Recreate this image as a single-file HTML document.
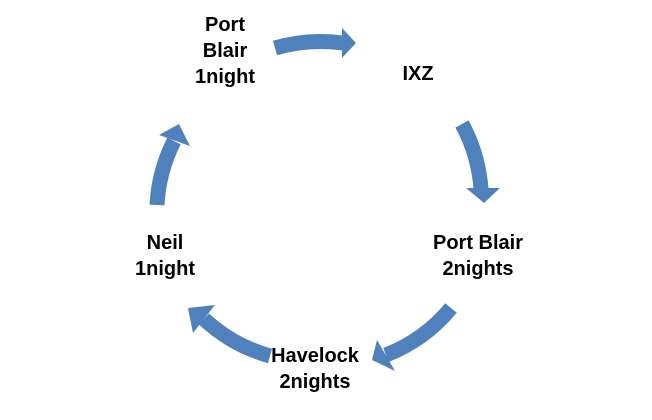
<!DOCTYPE html>
<html><head><style>
html,body{margin:0;padding:0;background:#fff;}
svg{display:block}
text{font-family:"Liberation Sans",sans-serif;font-weight:bold;font-size:20px;fill:#000;text-anchor:middle}
</style></head><body>
<svg width="652" height="420" viewBox="0 0 652 420">
<g fill="none" stroke="#4f81bd" stroke-width="15">
<path d="M275,48 A165,165 0 0 1 343,43"/>
<path d="M462,124 A160,160 0 0 1 481,189"/>
<path d="M451,308 A160,160 0 0 1 386,355"/>
<path d="M270,356 A160,160 0 0 1 204,319"/>
<path d="M157,205 A160,160 0 0 1 174,141"/>
</g>
<g fill="#4f81bd">
<polygon points="342,28 356,43 342,58"/>
<polygon points="466,188 500,188 484,203"/>
<polygon points="395,371 377,340 372,360"/>
<polygon points="215,305 193,333 188,308"/>
<polygon points="190,146 159,135 179,124"/>
</g>
<text x="225" y="31">Port</text>
<text x="225" y="57">Blair</text>
<text x="225" y="83">1night</text>
<text x="418" y="80">IXZ</text>
<text x="478" y="249">Port Blair</text>
<text x="478" y="275">2nights</text>
<text x="165" y="249">Neil</text>
<text x="165" y="275">1night</text>
<text x="315" y="362">Havelock</text>
<text x="315" y="388">2nights</text>
</svg>
</body></html>
